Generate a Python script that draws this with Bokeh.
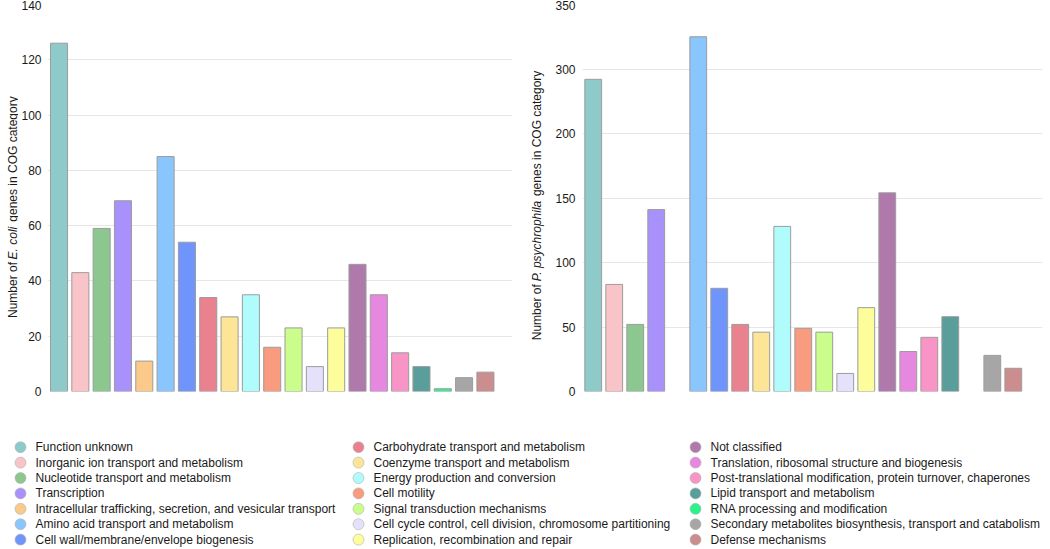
import math
from bokeh.plotting import figure
from bokeh.models import Range1d, ColumnDataSource, FixedTicker
from bokeh.layouts import row, column
from bokeh.core.properties import value
from bokeh.embed import file_html
from bokeh.resources import INLINE

# ---------------- data ----------------
categories = [
    "Function unknown",
    "Inorganic ion transport and metabolism",
    "Nucleotide transport and metabolism",
    "Transcription",
    "Intracellular trafficking, secretion, and vesicular transport",
    "Amino acid transport and metabolism",
    "Cell wall/membrane/envelope biogenesis",
    "Carbohydrate transport and metabolism",
    "Coenzyme transport and metabolism",
    "Energy production and conversion",
    "Cell motility",
    "Signal transduction mechanisms",
    "Cell cycle control, cell division, chromosome partitioning",
    "Replication, recombination and repair",
    "Not classified",
    "Translation, ribosomal structure and biogenesis",
    "Post-translational modification, protein turnover, chaperones",
    "Lipid transport and metabolism",
    "RNA processing and modification",
    "Secondary metabolites biosynthesis, transport and catabolism",
    "Defense mechanisms",
]
colors = ["#8ECACA", "#F9C4C7", "#8CC790", "#A891FA", "#FBCA8A", "#89C6FD",
          "#6F95FC", "#E9818E", "#FCE597", "#B0FCFC", "#F99B7E", "#CBFD8C",
          "#E5E1FB", "#FDFD9B", "#B079AC", "#E788E0", "#F994C7", "#5A9E9C",
          "#2CF28B", "#A6A6A6", "#CB8D8D"]
ecoli_counts = [126, 43, 59, 69, 11, 85, 54, 34, 27, 35, 16, 23, 9, 23, 46, 35, 14, 9, 1, 5, 7]
ppsy_counts = [242, 83, 52, 141, 0, 275, 80, 52, 46, 128, 49, 46, 14, 65, 154, 31, 42, 58, 0, 28, 18]

left_ticks = [0, 20, 40, 60, 80, 100, 120, 140]
right_ticks = [0, 50, 100, 150, 200, 250, 300]
right_tick_labels = ["0", "50", "100", "150", "200", "300", "350"]

left_title = [("Number of", "normal"), ("E. coli", "italic"), ("genes in COG category", "normal")]
right_title = [("Number of", "normal"), ("P. psychrophila", "italic"), ("genes in COG category", "normal")]

FONT = "Liberation Sans"
TXT = "#1a1a1a"
ROW_H = 400


def make_source(counts):
    xs, tops, cols = [], [], []
    for i, (c, col) in enumerate(zip(counts, colors)):
        if c > 0:
            xs.append(i)
            tops.append(c)
            cols.append(col)
    return ColumnDataSource(dict(x=xs, top=tops, color=cols))


def make_chart(counts, width, bl, br, xr, ymax, ticks, labels, standoff):
    p = figure(width=width, height=ROW_H, output_backend="svg", toolbar_location=None,
               x_range=Range1d(*xr), y_range=Range1d(0, ymax),
               x_axis_location=None, min_border_left=bl, min_border_right=br,
               min_border_top=4, min_border_bottom=ROW_H - 391, tools="")
    p.outline_line_color = None
    p.xgrid.grid_line_color = None
    p.ygrid.grid_line_color = "#e6e6e6"
    p.ygrid.grid_line_width = 1
    ax = p.yaxis[0]
    ax.ticker = FixedTicker(ticks=ticks)
    ax.major_label_overrides = {t: l for t, l in zip(ticks, labels)}
    ax.axis_line_color = None
    ax.major_tick_line_color = None
    ax.minor_tick_line_color = None
    ax.major_tick_in = 0
    ax.major_tick_out = 0
    ax.major_label_standoff = standoff
    ax.major_label_text_font = FONT
    ax.major_label_text_font_size = "12px"
    ax.major_label_text_color = TXT
    p.vbar(x="x", top="top", width=0.8, source=make_source(counts),
           fill_color="color", line_color="#9c9c9c", line_width=1)
    return p


def make_title(width, segs, offsets, start_y, cx):
    t = figure(width=width, height=ROW_H, output_backend="svg", toolbar_location=None,
               x_range=Range1d(0, width), y_range=Range1d(0, ROW_H),
               x_axis_location=None, y_axis_location=None, min_border=0, tools="")
    t.outline_line_color = None
    t.grid.grid_line_color = None
    for (text, style), off in zip(segs, offsets):
        t.text(x=[cx], y=[ROW_H - start_y + off], text=[text], angle=math.pi / 2,
               text_align="left", text_baseline="middle", text_font=value(FONT),
               text_font_size="12px", text_font_style=style, text_color=TXT)
    return t


L_xr = (-0.54, 21.27)
R_xr = (-0.51, 21.39)

title_l = make_title(18, left_title, [0, 60.5, 99.5], 324, 12)
left = make_chart(ecoli_counts, 502, 27, 8, L_xr, 140, left_ticks,
                  [str(t) for t in left_ticks], 6)
title_r = make_title(28, right_title, [0, 61.0, 149.0], 347, 16)
right = make_chart(ppsy_counts, 502, 34, 8, R_xr, 300, right_ticks,
                   right_tick_labels, 7)

# ---------------- legend ----------------
LEG_H = 149
leg = figure(width=1050, height=LEG_H, output_backend="svg", toolbar_location=None,
             x_range=Range1d(0, 1050), y_range=Range1d(LEG_H, 0),
             x_axis_location=None, y_axis_location=None,
             min_border=0, tools="")
leg.outline_line_color = None
leg.grid.grid_line_color = None
col_marker_x = [20, 358, 695]
col_text_x = [35, 373, 710]
row_y0, row_dy = 46.7, 15.4
mx, my, tx = [], [], []
for i in range(len(categories)):
    c, r = i // 7, i % 7
    mx.append(col_marker_x[c])
    tx.append(col_text_x[c])
    my.append(row_y0 + r * row_dy)
lsrc = ColumnDataSource(dict(mx=mx, tx=tx, y=my, color=colors, name=categories))
leg.scatter(x="mx", y="y", source=lsrc, size=11, marker="circle",
            fill_color="color", line_color="#b0b0b0", line_width=0.6)
leg.text(x="tx", y="y", text="name", source=lsrc, text_font=value(FONT),
         text_font_size="12px", text_baseline="middle", text_align="left",
         text_color=TXT)

layout = column(row(title_l, left, title_r, right), leg)
open("out.html", "w").write(file_html(layout, INLINE))
